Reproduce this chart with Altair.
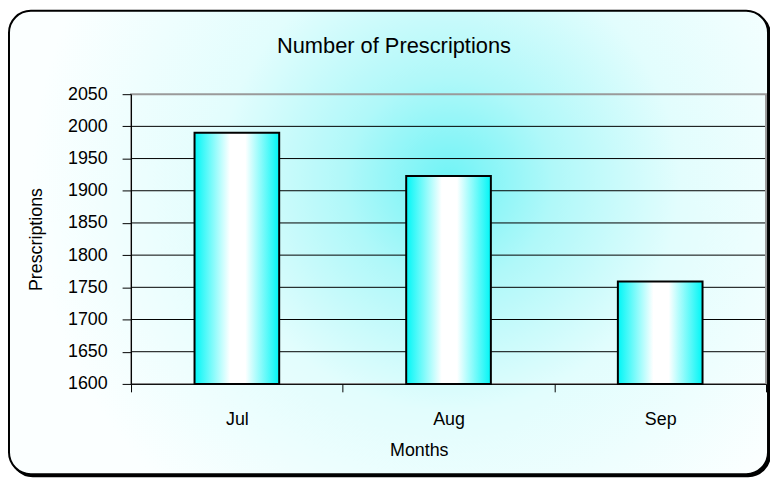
import altair as alt
import pandas as pd

# ---- data ----
months = ["Jul", "Aug", "Sep"]
prescriptions = [1990, 1923, 1759]
y_ticks = [1600, 1650, 1700, 1750, 1800, 1850, 1900, 1950, 2000, 2050]
y_base = 1600
y_top = 2050

df = pd.DataFrame({"Months": months, "Prescriptions": prescriptions})
grid_df = pd.DataFrame({"Prescriptions": y_ticks})

FONT = "Liberation Sans, Arial, sans-serif"
W, H = 640, 292
PAD = {"left": 124, "top": 85, "right": 4, "bottom": 94}

bg_gradient = {
    "gradient": "radial",
    "x1": 0.58, "y1": 0.42, "r1": 0,
    "x2": 0.58, "y2": 0.42, "r2": 0.55,
    "stops": [
        {"offset": 0.0, "color": "#6ff3f6"},
        {"offset": 0.25, "color": "#b0f8f9"},
        {"offset": 0.55, "color": "#e2fdfd"},
        {"offset": 1.0, "color": "#fbffff"},
    ],
}

bar_gradient = {
    "gradient": "linear",
    "x1": 0, "y1": 0, "x2": 1, "y2": 0,
    "stops": [
        {"offset": 0.0, "color": "#00f6f6"},
        {"offset": 0.42, "color": "#ffffff"},
        {"offset": 0.6, "color": "#ffffff"},
        {"offset": 1.0, "color": "#00f6f6"},
    ],
}

one = alt.Data(values=[{"k": 1}])
left, right = 1 - PAD["left"], W + PAD["right"] - 2
top, bottom = 1 - PAD["top"], H + PAD["bottom"] - 3

shadow = alt.Chart(one).mark_rect(
    cornerRadius=22, fill="black", stroke="black", strokeWidth=2
).encode(
    x=alt.value(left + 2), x2=alt.value(right + 2),
    y=alt.value(top + 2), y2=alt.value(bottom + 2),
)

frame = alt.Chart(one).mark_rect(
    cornerRadius=22, fill=bg_gradient, stroke="black", strokeWidth=2
).encode(
    x=alt.value(left), x2=alt.value(right),
    y=alt.value(top), y2=alt.value(bottom),
)

yscale = alt.Scale(domain=[y_base, y_top], nice=False, zero=False)
y_axis = alt.Axis(
    title="Prescriptions", values=y_ticks, format="d", tickSize=9,
    tickColor="black", domainColor="black", labelPadding=15,
    labelFontSize=18, titleFontSize=18, labelFont=FONT, titleFont=FONT,
    titleFontWeight="normal", labelColor="black", titleColor="black",
    grid=False, titleX=-95, titleY=146, titleAlign="center",
    titleBaseline="middle", zindex=1,
)

grid = alt.Chart(grid_df).mark_rule(color="black", strokeWidth=1).encode(
    y=alt.Y("Prescriptions:Q", scale=yscale, axis=y_axis),
).transform_filter(f"datum.Prescriptions < {y_top}")

plot_border = alt.Chart(one).mark_rect(
    fill=None, stroke="#9a9a9a", strokeWidth=2
).encode(
    x=alt.value(0), x2=alt.value(W), y=alt.value(0), y2=alt.value(H),
)

bars = alt.Chart(df).mark_bar(
    fill=bar_gradient, stroke="black", strokeWidth=2,
    width=alt.RelativeBandSize(0.4),
).encode(
    x=alt.X(
        "Months:N", sort=months,
        scale=alt.Scale(paddingInner=0, paddingOuter=0),
        axis=alt.Axis(
            title="Months", labelAngle=0, tickBand="extent", tickSize=8,
            tickColor="black", domainColor="black", labelPadding=19,
            labelFontSize=18, titleFontSize=18, labelFont=FONT, titleFont=FONT,
            titleFontWeight="normal", labelColor="black", titleColor="black",
            titleX=290, titleY=72, titleBaseline="alphabetic", grid=False,
            zindex=1,
        ),
    ),
    y=alt.Y("Prescriptions:Q", scale=yscale, axis=y_axis),
    y2=alt.datum(y_base),
)

chart = alt.layer(shadow, frame, grid, plot_border, bars).properties(
    width=W, height=H,
    title=alt.TitleParams(
        "Number of Prescriptions", font=FONT, fontSize=22, fontWeight="normal",
        color="black", anchor="middle", dx=-55, offset=-48, frame="group",
        zindex=1,
    ),
    autosize=alt.AutoSizeParams(type="none"),
    padding=PAD,
).configure_view(
    stroke=None
).configure(background="white")

chart.save("out.html", embed_options={"renderer": "svg", "actions": False})
